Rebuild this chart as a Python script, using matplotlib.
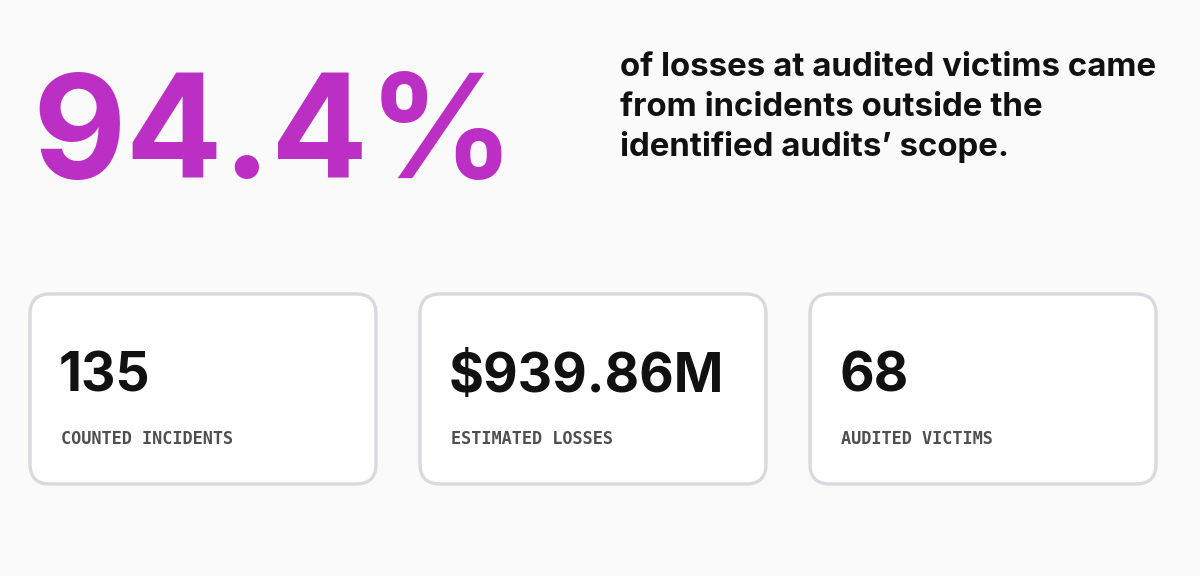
import matplotlib
matplotlib.use("Agg")
import matplotlib.pyplot as plt
from matplotlib.patches import FancyBboxPatch

# ---- data ----
headline = "94.4%"
description = ["of losses at audited victims came",
               "from incidents outside the",
               "identified audits\u2019 scope."]
card_values = ["135", "$939.86M", "68"]
card_labels = ["COUNTED INCIDENTS", "ESTIMATED LOSSES", "AUDITED VICTIMS"]

W, H, DPI = 1200, 576, 100
BG = "#FAFAFA"
PURPLE = "#BB2FC4"
SANS = ["Inter", "DejaVu Sans"]
MONO = ["DejaVu Sans Mono"]

fig = plt.figure(figsize=(W / DPI, H / DPI), dpi=DPI, facecolor=BG)
ax = fig.add_axes([0, 0, 1, 1])
ax.set_xlim(0, W)
ax.set_ylim(H, 0)
ax.axis("off")
ax.set_facecolor(BG)
renderer = fig.canvas.get_renderer()


def fit_text(x, y, s, target_w, start_size, **kw):
    t = ax.text(x, y, s, fontsize=start_size, **kw)
    bb = t.get_window_extent(renderer)
    t.set_fontsize(start_size * target_w / bb.width)
    return t


# headline
fit_text(32, 178, headline, 482, 110, color=PURPLE, family=SANS,
         fontweight="bold", va="baseline", ha="left")

# description
baselines = [76, 116, 156]
t0 = fit_text(620, baselines[0], description[0], 537, 21, color="#111111",
              family=SANS, fontweight="bold", va="baseline", ha="left")
fs = t0.get_fontsize()
for line, yb in zip(description[1:], baselines[1:]):
    ax.text(620, yb, line, fontsize=fs, color="#111111", family=SANS,
            fontweight="bold", va="baseline", ha="left")

# measure value font size from the widest value
probe = ax.text(0, 0, card_values[1], fontsize=30, family=SANS, fontweight="bold")
val_fs = 30 * 275 / probe.get_window_extent(renderer).width
probe.remove()
probe = ax.text(0, 0, card_labels[0], fontsize=12, family=MONO, fontweight="bold")
lab_fs = 12 * 172 / probe.get_window_extent(renderer).width
probe.remove()

# cards
card_x = [30, 420, 810]
card_w, card_h, card_y = 346, 190, 294
for cx, val, lab in zip(card_x, card_values, card_labels):
    box = FancyBboxPatch((cx, card_y), card_w, card_h,
                         boxstyle="round,pad=0,rounding_size=20",
                         facecolor="white", edgecolor="#D9D9DF", linewidth=2.4)
    ax.add_patch(box)
    ax.text(cx + 29, 392, val, fontsize=val_fs, color="#111111", family=SANS,
            fontweight="bold", va="baseline", ha="left")
    ax.text(cx + 31, 444, lab, fontsize=lab_fs, color="#4F4F4F", family=MONO,
            fontweight="bold", va="baseline", ha="left")

fig.savefig("out.png", dpi=DPI, facecolor=BG)
